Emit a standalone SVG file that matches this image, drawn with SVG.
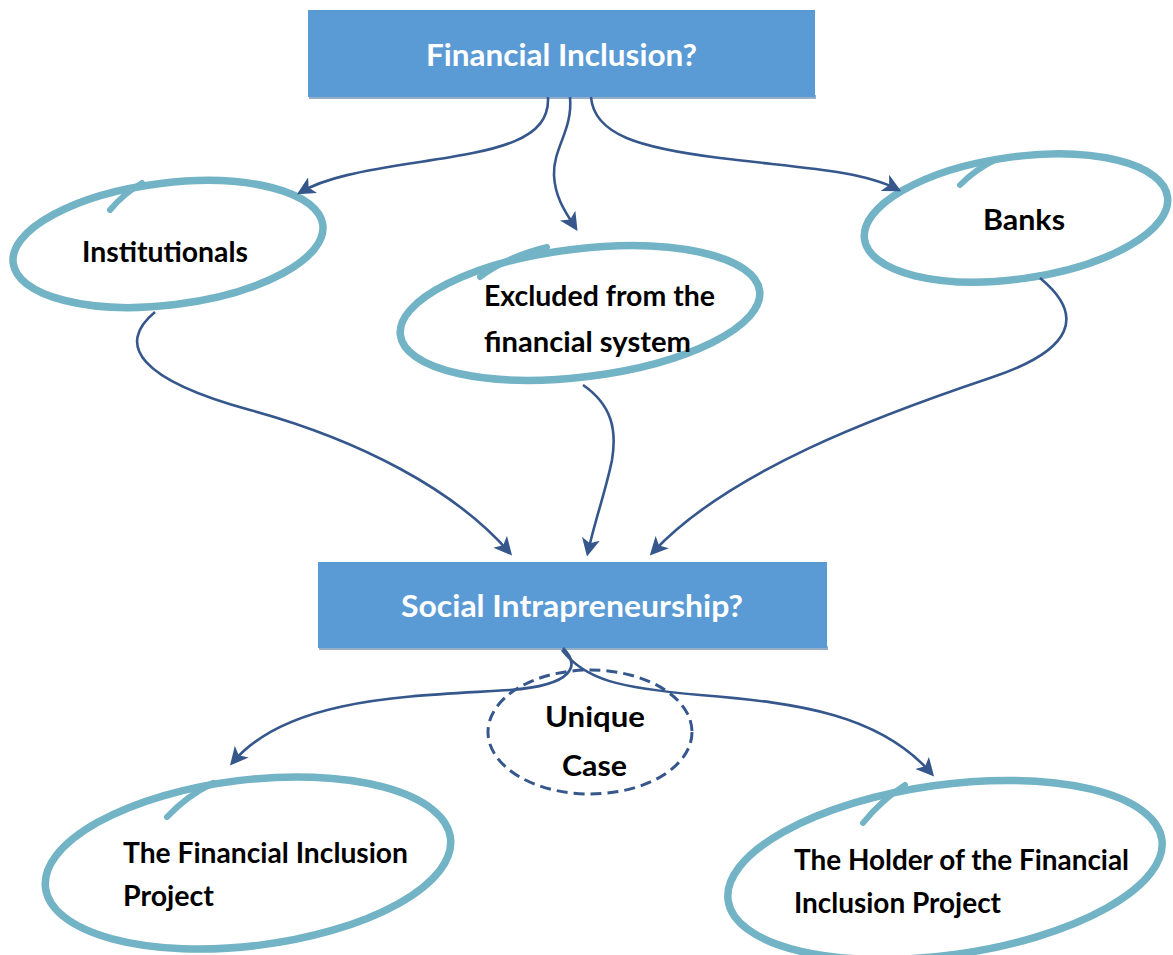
<svg xmlns="http://www.w3.org/2000/svg" width="1173" height="955" viewBox="0 0 1173 955">
<defs>
<style>
.box{fill:#5B9BD5;}
.shadow{fill:#3E6E9C;opacity:0.55;}
.title{font-family:Lato,"Liberation Sans",sans-serif;font-weight:bold;font-size:30px;fill:#ffffff;}
.lbl{font-family:Lato,"Liberation Sans",sans-serif;font-weight:bold;font-size:29px;fill:#000000;}
.loop{fill:none;stroke:#72B3C6;stroke-width:7.5;}
.tail{fill:none;stroke:#72B3C6;stroke-width:6;stroke-linecap:round;}
.conn{fill:none;stroke:#35578C;stroke-width:2.6;marker-end:url(#ah);}
.dash{fill:none;stroke:#35578C;stroke-width:3;stroke-dasharray:11 6;}
</style>
<marker id="ah" markerWidth="7" markerHeight="7" refX="5.2" refY="3.5" orient="auto" markerUnits="strokeWidth">
<path d="M0,0 L7,3.5 L0,7 L1.8,3.5 Z" fill="#35578C"/>
</marker>
</defs>
<rect width="1173" height="955" fill="#ffffff"/>

<g id="financial-inclusion">
<rect class="shadow" x="309" y="95" width="507" height="4"/>
<rect class="box" x="308" y="10" width="507" height="87"/>
<text class="title" x="426" y="66" textLength="271" lengthAdjust="spacingAndGlyphs">Financial Inclusion?</text>
</g>

<g id="institutionals">
<ellipse class="loop" cx="168" cy="244" rx="156" ry="61" transform="rotate(-7 168 244)"/>
<path class="tail" d="M110,210 C120,198 130,190 142,183"/>
<text class="lbl" x="82" y="262" textLength="166" lengthAdjust="spacingAndGlyphs">Institutionals</text>
</g>

<g id="excluded">
<ellipse class="loop" cx="580" cy="313" rx="181" ry="64" transform="rotate(-7 580 313)"/>
<path class="tail" d="M480,277 C500,262 522,253 547,247"/>
<text class="lbl" x="484" y="306" textLength="231" lengthAdjust="spacingAndGlyphs">Excluded from the</text>
<text class="lbl" x="484" y="352" textLength="207" lengthAdjust="spacingAndGlyphs">financial system</text>
</g>

<g id="banks">
<ellipse class="loop" cx="1016" cy="218" rx="153" ry="61" transform="rotate(-8 1016 218)"/>
<path class="tail" d="M960,185 C970,175 982,166 995,160"/>
<text class="lbl" x="983" y="230" textLength="82" lengthAdjust="spacingAndGlyphs">Banks</text>
</g>

<g id="social-intrapreneurship">
<rect class="shadow" x="319" y="646" width="509" height="4"/>
<rect class="box" x="318" y="562" width="509" height="86"/>
<text class="title" x="401" y="617" textLength="342" lengthAdjust="spacingAndGlyphs">Social Intrapreneurship?</text>
</g>

<g id="unique-case">
<ellipse class="dash" cx="590" cy="732" rx="102" ry="62"/>
<text class="lbl" x="545" y="727" textLength="100" lengthAdjust="spacingAndGlyphs">Unique</text>
<text class="lbl" x="562" y="776" textLength="65" lengthAdjust="spacingAndGlyphs">Case</text>
</g>

<g id="financial-inclusion-project">
<ellipse class="loop" cx="248" cy="863" rx="204" ry="83" transform="rotate(-7 248 863)"/>
<path class="tail" d="M167,817 C180,803 195,792 213,783"/>
<text class="lbl" x="123" y="863" textLength="285" lengthAdjust="spacingAndGlyphs">The Financial Inclusion</text>
<text class="lbl" x="123" y="906" textLength="91" lengthAdjust="spacingAndGlyphs">Project</text>
</g>

<g id="holder">
<ellipse class="loop" cx="945" cy="870" rx="219" ry="85" transform="rotate(-8 945 870)"/>
<path class="tail" d="M863,823 C875,808 888,796 905,785"/>
<text class="lbl" x="794" y="870" textLength="335" lengthAdjust="spacingAndGlyphs">The Holder of the Financial</text>
<text class="lbl" x="794" y="913" textLength="207" lengthAdjust="spacingAndGlyphs">Inclusion Project</text>
</g>

<g id="connectors">
<path class="conn" d="M548,97 C550,140 500,150 420,162 C360,171 325,178 301,192"/>
<path class="conn" d="M570,97 C573,130 553,148 554,175 C555,198 566,213 575,227"/>
<path class="conn" d="M591,97 C594,135 640,148 720,158 C800,168 860,170 897,189"/>
<path class="conn" d="M155,312 C115,345 140,380 250,410 C360,440 455,490 509,552"/>
<path class="conn" d="M583,385 C612,405 617,430 612,460 C606,490 595,520 588,552"/>
<path class="conn" d="M1040,278 C1085,315 1075,350 990,378 C880,415 730,470 653,552"/>
<path class="conn" d="M563,648 C580,665 575,685 510,690 C420,696 290,695 233,762"/>
<path class="conn" d="M562,650 C585,680 620,688 700,695 C800,703 880,715 931,773"/>
</g>
</svg>
